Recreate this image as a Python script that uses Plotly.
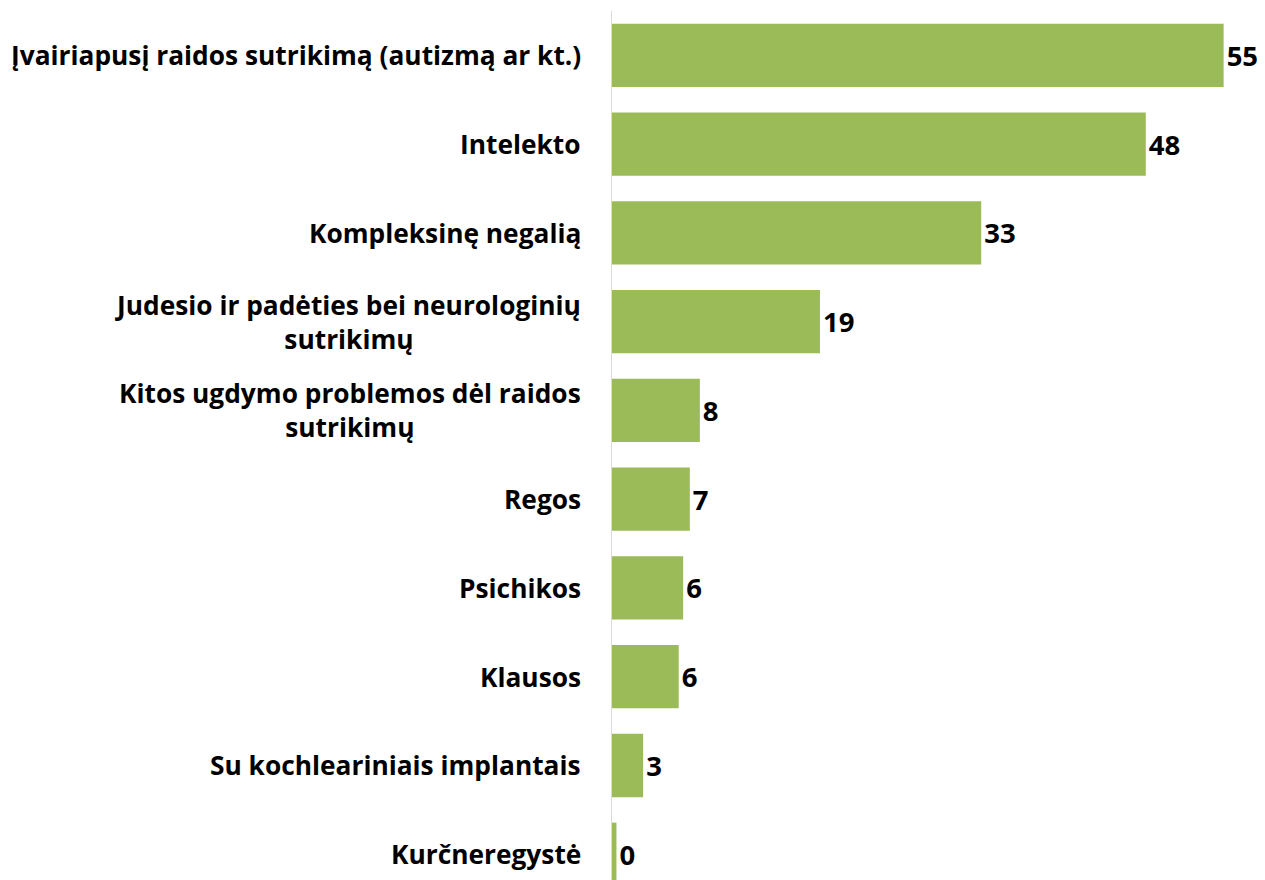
import plotly.graph_objects as go

categories = [
    "Įvairiapusį raidos sutrikimą (autizmą ar kt.)",
    "Intelekto",
    "Kompleksinę negalią",
    "Judesio ir padėties bei neurologinių<br>sutrikimų",
    "Kitos ugdymo problemos dėl raidos<br>sutrikimų",
    "Regos",
    "Psichikos",
    "Klausos",
    "Su kochleariniais implantais",
    "Kurčneregystė",
]
values = [55.0, 48.0, 33.2, 18.7, 7.9, 7.0, 6.4, 6.0, 2.8, 0.4]

FONT = "Open Sans"
fig = go.Figure(
    go.Bar(
        x=values,
        y=categories,
        orientation="h",
        marker=dict(color="#9BBB59", line=dict(width=0)),
        width=0.713,
        texttemplate="<b>%{x:.0f}</b>",
        textposition="outside",
        textfont=dict(family=FONT, size=27.5, color="#000000"),
        cliponaxis=False,
        hoverinfo="skip",
    )
)

for c in categories:
    fig.add_annotation(
        x=0, xref="paper", y=c, yref="y",
        text="<b>" + c + "</b>",
        xanchor="right", xshift=-29, align="center",
        showarrow=False,
        font=dict(family=FONT, size=26.3, color="#000000"),
    )

# page body has an 8px margin, so the figure is sized/offset to match the window
fig.update_layout(
    width=1257, height=872,
    margin=dict(l=604, r=7.6, t=2.6, b=0, pad=0),
    paper_bgcolor="white", plot_bgcolor="white",
    showlegend=False,
    xaxis=dict(range=[0, 58], visible=False, fixedrange=True),
    yaxis=dict(
        categoryorder="array", categoryarray=categories,
        range=[9.29, -0.5],
        showticklabels=False, showgrid=False, zeroline=False,
        showline=True, linecolor="#d9d9d9", linewidth=1, ticks="",
    ),
)

fig.write_html("out.html")
